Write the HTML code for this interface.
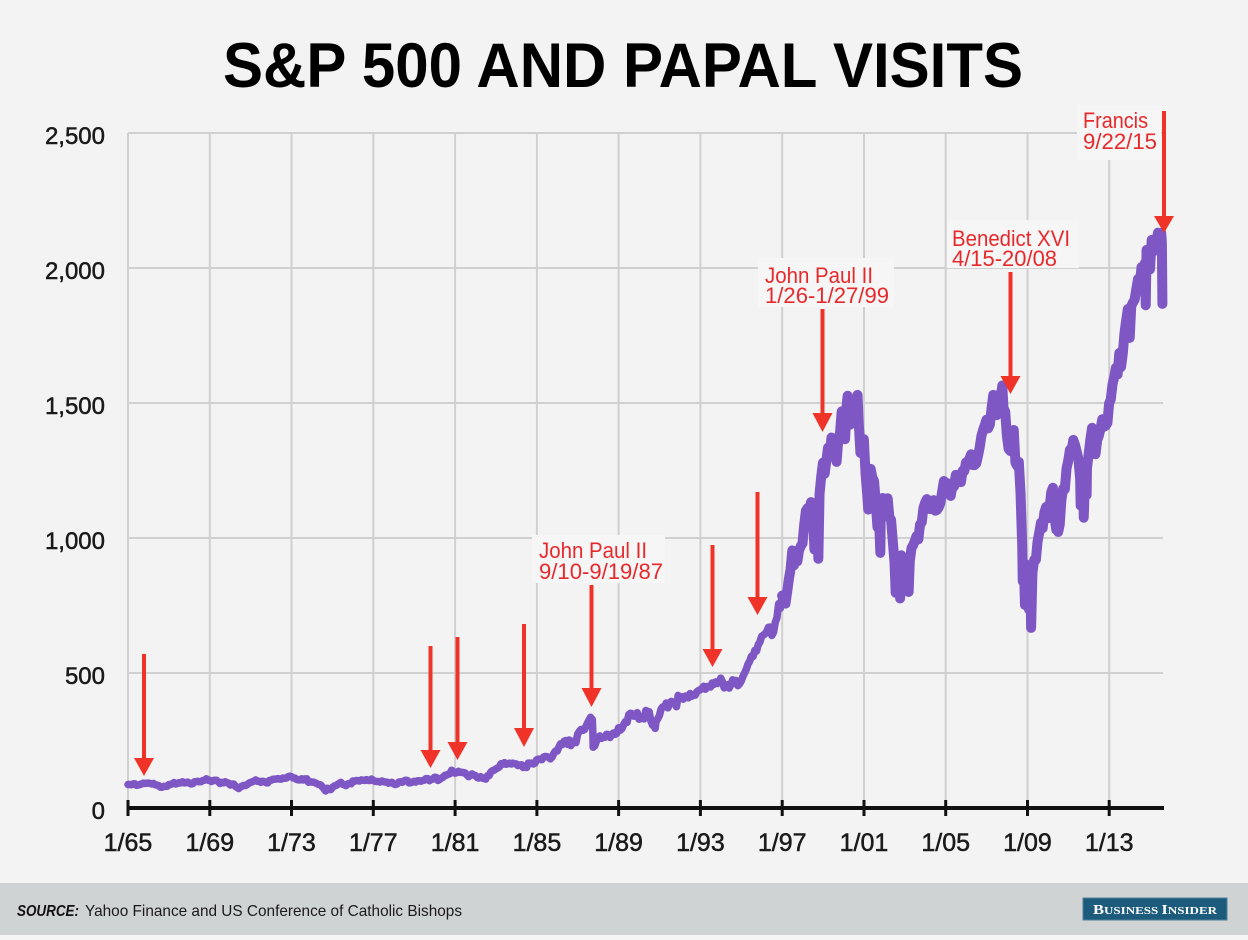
<!DOCTYPE html>
<html><head><meta charset="utf-8"><style>
html,body{margin:0;padding:0;background:#f3f3f3;}
svg{display:block;}
</style></head><body>
<svg width="1248" height="940" viewBox="0 0 1248 940" xmlns="http://www.w3.org/2000/svg" font-family="Liberation Sans, Arial, sans-serif">
<rect x="0" y="0" width="1248" height="940" fill="#f3f3f3"/>
<text x="223" y="87" font-size="63" font-weight="bold" fill="#000" textLength="800" lengthAdjust="spacingAndGlyphs">S&amp;P 500 AND PAPAL VISITS</text>

<!-- gridlines -->
<g stroke="#d0d0d0" stroke-width="2" fill="none">
<line x1="128" y1="133" x2="1163" y2="133"/>
<line x1="128" y1="268" x2="1163" y2="268"/>
<line x1="128" y1="403" x2="1163" y2="403"/>
<line x1="128" y1="538" x2="1163" y2="538"/>
<line x1="128" y1="673" x2="1163" y2="673"/>
<line x1="128" y1="133" x2="128" y2="808"/>
<line x1="209.8" y1="133" x2="209.8" y2="808"/>
<line x1="291.5" y1="133" x2="291.5" y2="808"/>
<line x1="373.3" y1="133" x2="373.3" y2="808"/>
<line x1="455.1" y1="133" x2="455.1" y2="808"/>
<line x1="536.9" y1="133" x2="536.9" y2="808"/>
<line x1="618.6" y1="133" x2="618.6" y2="808"/>
<line x1="700.4" y1="133" x2="700.4" y2="808"/>
<line x1="782.2" y1="133" x2="782.2" y2="808"/>
<line x1="864" y1="133" x2="864" y2="808"/>
<line x1="945.7" y1="133" x2="945.7" y2="808"/>
<line x1="1027.5" y1="133" x2="1027.5" y2="808"/>
<line x1="1109.2" y1="133" x2="1109.2" y2="808"/>
</g>

<!-- y labels -->
<g font-size="24" fill="#1a1a1a" stroke="#1a1a1a" stroke-width="0.5" text-anchor="end">
<text x="105" y="144">2,500</text>
<text x="105" y="279">2,000</text>
<text x="105" y="414">1,500</text>
<text x="105" y="549">1,000</text>
<text x="105" y="684">500</text>
<text x="105" y="819">0</text>
</g>

<!-- label boxes -->
<g fill="#f6f6f6">
<rect x="532" y="535" width="133" height="48"/>
<rect x="758" y="258" width="136" height="49"/>
<rect x="947" y="220" width="132" height="48"/>
<rect x="1077" y="105" width="84" height="55"/>
</g>

<!-- data line -->
<g transform="translate(128 808) scale(1.7033 -0.27)" fill="none" stroke="#7e57c4" stroke-linejoin="round" stroke-linecap="round">
<polyline stroke-width="7.5" vector-effect="non-scaling-stroke" points="
0,87 1,87 2,86 3,89 4,90 5,84 6,85 7,87 8,89 9,92 10,91 11,92
12,92 13,91 14,89 15,91 16,86 17,85 18,83 19,77 20,77 21,80 22,80 23,80
24,87 25,87 26,90 27,94 28,89 29,91 30,94 31,93 32,97 33,93 34,94 35,96
36,92 37,89 38,90 39,97 40,98 41,99 42,97 43,98 44,102 45,103 46,108 47,103
48,103 49,98 50,101 51,103 52,103 53,97 54,91 55,95 56,93 57,97 58,94 59,92
60,85 61,89 62,89 63,81 64,76 65,72 66,78 67,81 68,84 69,83 70,87 71,92
72,95 73,97 74,100 75,104 76,99 77,99 78,95 79,99 80,98 81,94 82,93 83,102
84,103 85,106 86,107 87,107 88,109 89,107 90,107 91,111 92,110 93,111 94,116 95,118
96,116 97,111 98,111 99,106 100,104 101,104 102,108 103,104 104,108 105,108 106,95 107,97
108,96 109,96 110,93 111,90 112,87 113,86 114,79 115,72 116,63 117,73 118,69 119,68
120,76 121,81 122,83 123,87 124,91 125,95 126,88 127,86 128,83 129,89 130,91 131,90
132,100 133,99 134,102 135,101 136,100 137,104 138,103 139,102 140,105 141,102 142,102 143,107
144,102 145,99 146,98 147,98 148,96 149,100 150,98 151,96 152,96 153,92 154,94 155,95
156,89 157,87 158,89 159,96 160,97 161,95 162,100 163,103 164,102 165,93 166,94 167,96
168,99 169,96 170,101 171,101 172,99 173,102 174,103 175,109 176,109 177,101 178,106 179,107
180,114 181,113 182,102 183,106 184,111 185,114 186,121 187,122 188,125 189,127 190,140 191,135
192,129 193,131 194,136 195,132 196,132 197,131 198,130 199,122 200,116 201,121 202,126 203,122
204,120 205,113 206,111 207,116 208,111 209,109 210,107 211,119 212,120 213,133 214,138 215,140
216,145 217,148 218,152 219,164 220,162 221,168 222,162 223,164 224,166 225,163 226,166 227,164
228,163 229,157 230,159 231,160 232,150 233,153 234,150 235,166 236,166 237,166 238,163 239,167
240,179 241,181 242,180 243,179 244,189 245,191 246,190 247,188 248,182 249,189 250,202 251,211
252,211 253,226 254,238 255,235 256,247 257,250 258,236 259,252 260,231 261,243 262,249 263,242
264,274 265,284 266,291 267,288 268,290 269,304 270,318 271,329 271.6,336 272,321 272.6,328 272.9,282 273.1,225 273.5,248 274,230 275,247
276,257 277,267 278,258 279,261 280,262 281,273 282,272 283,261 284,271 285,278 286,273 287,277
288,297 289,288 290,294 291,309 292,320 293,317 294,346 295,351 296,349 297,340 298,345 299,353
300,329 301,331 302,339 303,330 304,361 305,358 306,356 307,322 308,306 309,304 309.5,295 310,322 311,330
312,343 313,367 314,375 315,375 316,389 317,371 318,387 319,395 320,387 321,392 322,375 323,417
324,408 325,412 326,403 327,414 328,415 329,408 330,424 331,414 332,418 333,418 334,431 335,435
336,438 337,443 338,451 339,440 340,450 341,450 342,448 343,463 344,458 345,467 346,461 347,466
348,481 349,467 350,445 351,450 352,457 353,444 354,458 355,475 356,462 357,472 358,453 359,459
360,470 361,487 362,500 363,514 364,533 365,544 366,562 367,561 368,584 369,581 370,605 371,615
372,636 373,640 374,645 375,654 376,669 377,670 378,639 379,651 380,687 381,705 382,757 383,740
384,786 385,790 386,757 387,801 388,848 389,885 390,954 391,899 392,947 393,914 394,955 395,970
396,980 397,1049 398,1101 399,1111 400,1090 401,1133 402,1120 403,957 404,1017 405,1098 405.3,923 406,1163 407,1229
408,1279 409,1238 410,1286 411,1335 412,1301 413,1372 414,1328 415,1320 416,1282 417,1362 418,1388 419,1469
420,1394 421,1366 422,1498 422.5,1527 423,1452 424,1420 425,1454 426,1430 427,1517 428,1436 428.3,1530 429,1429 430,1315 431,1320
432,1366 433,1240 434,1160 434.6,1105 435,1249 436,1256 437,1224 438,1211 439,1133 440,1040 441,1060 441.7,945 442,1139 443,1148
444,1130 445,1106 446,1147 447,1076 448,1067 449,989 450,911 450.7,797 451,916 452,815 453,885 453.3,776 454,936 455,879
456,855 457,841 458,848 458.3,800 459,916 460,963 461,974 462,990 463,1008 464,995 465,1050 466,1058 467,1111
468,1131 469,1144 470,1126 471,1107 472,1120 473,1140 474,1101 475,1104 476,1114 477,1130 478,1173 479,1211
480,1181 481,1203 482,1180 483,1156 484,1191 485,1191 486,1234 487,1220 488,1228 489,1207 490,1249 491,1248
492,1280 493,1280 494,1294 495,1310 496,1270 497,1270 498,1276 499,1303 500,1335 501,1377 502,1400 503,1418
504,1438 505,1406 506,1420 507,1482 508,1530 509,1503 510,1455 511,1473 512,1526 513,1549 513.3,1565 514,1481 515,1468
516,1378 517,1330 518,1322 519,1385 520,1400 521,1280 522,1267 523,1282 524,1166 525,968 525.3,840 526,896 526.6,752 527,903
528,825 529,735 530,797 530.2,667 531,872 532,919 533,919 534,987 535,1020 536,1057 537,1036 538,1095 539,1115
540,1073 541,1104 542,1169 543,1186 544,1089 544.2,1066 545,1030 546,1101 546.1,1022 547,1049 548,1141 549,1183 550,1180 551,1257
552,1286 553,1327 554,1325 555,1363 556,1345 557,1320 558,1292 559,1218 559.3,1120 560,1131 561,1253 561.1,1075 562,1247 562.8,1159 563,1257
564,1312 565,1365 566,1408 567,1397 568,1310 569,1362 570,1379 571,1406 572,1440 573,1412 574,1416 575,1426
576,1498 577,1514 578,1569 579,1597 580,1631 581,1606 582,1685 583,1633 584,1681 585,1757 586,1806 587,1848
588,1783 588.1,1741 589,1859 590,1872 591,1883 592,1923 593,1960 594,1931 595,2003 596,1972 597,2018 597.5,1862 598,2067 599,2059
600,1995 601,2104 602,2068 603,2086 604,2107 604.7,2131 605,2063 606,2104 606.6,2130 607.0,2090 607.3,1867"/>
<polyline stroke-width="10" vector-effect="non-scaling-stroke" points="
384,786 385,790 386,757 387,801 388,848 389,885 390,954 391,899 392,947 393,914 394,955 395,970
396,980 397,1049 398,1101 399,1111 400,1090 401,1133 402,1120 403,957 404,1017 405,1098 405.3,923 406,1163 407,1229
408,1279 409,1238 410,1286 411,1335 412,1301 413,1372 414,1328 415,1320 416,1282 417,1362 418,1388 419,1469
420,1394 421,1366 422,1498 422.5,1527 423,1452 424,1420 425,1454 426,1430 427,1517 428,1436 428.3,1530 429,1429 430,1315 431,1320
432,1366 433,1240 434,1160 434.6,1105 435,1249 436,1256 437,1224 438,1211 439,1133 440,1040 441,1060 441.7,945 442,1139 443,1148
444,1130 445,1106 446,1147 447,1076 448,1067 449,989 450,911 450.7,797 451,916 452,815 453,885 453.3,776 454,936 455,879
456,855 457,841 458,848 458.3,800 459,916 460,963 461,974 462,990 463,1008 464,995 465,1050 466,1058 467,1111
468,1131 469,1144 470,1126 471,1107 472,1120 473,1140 474,1101 475,1104 476,1114 477,1130 478,1173 479,1211
480,1181 481,1203 482,1180 483,1156 484,1191 485,1191 486,1234 487,1220 488,1228 489,1207 490,1249 491,1248
492,1280 493,1280 494,1294 495,1310 496,1270 497,1270 498,1276 499,1303 500,1335 501,1377 502,1400 503,1418
504,1438 505,1406 506,1420 507,1482 508,1530 509,1503 510,1455 511,1473 512,1526 513,1549 513.3,1565 514,1481 515,1468
516,1378 517,1330 518,1322 519,1385 520,1400 521,1280 522,1267 523,1282 524,1166 525,968 525.3,840 526,896 526.6,752 527,903
528,825 529,735 530,797 530.2,667 531,872 532,919 533,919 534,987 535,1020 536,1057 537,1036 538,1095 539,1115
540,1073 541,1104 542,1169 543,1186 544,1089 544.2,1066 545,1030 546,1101 546.1,1022 547,1049 548,1141 549,1183 550,1180 551,1257
552,1286 553,1327 554,1325 555,1363 556,1345 557,1320 558,1292 559,1218 559.3,1120 560,1131 561,1253 561.1,1075 562,1247 562.8,1159 563,1257
564,1312 565,1365 566,1408 567,1397 568,1310 569,1362 570,1379 571,1406 572,1440 573,1412 574,1416 575,1426
576,1498 577,1514 578,1569 579,1597 580,1631 581,1606 582,1685 583,1633 584,1681 585,1757 586,1806 587,1848
588,1783 588.1,1741 589,1859 590,1872 591,1883 592,1923 593,1960 594,1931 595,2003 596,1972 597,2018 597.5,1862 598,2067 599,2059
600,1995 601,2104 602,2068 603,2086 604,2107 604.7,2131 605,2063 606,2104 606.6,2130 607.0,2090 607.3,1867"/>
</g>

<!-- x axis -->
<g fill="#111">
<rect x="127" y="806" width="1037" height="4"/>
<rect x="126.5" y="800" width="3" height="16"/>
<rect x="208.3" y="800" width="3" height="16"/>
<rect x="290" y="800" width="3" height="16"/>
<rect x="371.8" y="800" width="3" height="16"/>
<rect x="453.6" y="800" width="3" height="16"/>
<rect x="535.4" y="800" width="3" height="16"/>
<rect x="617.1" y="800" width="3" height="16"/>
<rect x="698.9" y="800" width="3" height="16"/>
<rect x="780.7" y="800" width="3" height="16"/>
<rect x="862.5" y="800" width="3" height="16"/>
<rect x="944.2" y="800" width="3" height="16"/>
<rect x="1026" y="800" width="3" height="16"/>
<rect x="1107.7" y="800" width="3" height="16"/>
</g>
<g font-size="25" fill="#1a1a1a" stroke="#1a1a1a" stroke-width="0.5" text-anchor="middle">
<text x="128" y="851">1/65</text>
<text x="209.8" y="851">1/69</text>
<text x="291.5" y="851">1/73</text>
<text x="373.3" y="851">1/77</text>
<text x="455.1" y="851">1/81</text>
<text x="536.9" y="851">1/85</text>
<text x="618.6" y="851">1/89</text>
<text x="700.4" y="851">1/93</text>
<text x="782.2" y="851">1/97</text>
<text x="864" y="851">1/01</text>
<text x="945.7" y="851">1/05</text>
<text x="1027.5" y="851">1/09</text>
<text x="1109.2" y="851">1/13</text>
</g>

<!-- arrows -->
<g fill="#ef3329">
<rect x="142" y="654" width="4" height="105"/><polygon points="134,758 154,758 144,776"/>
<rect x="428.5" y="646" width="4" height="105"/><polygon points="420.5,750 440.5,750 430.5,768"/>
<rect x="455.5" y="637" width="4" height="106"/><polygon points="447.5,742 467.5,742 457.5,760"/>
<rect x="522" y="624" width="4" height="105"/><polygon points="514,728 534,728 524,747"/>
<rect x="589.5" y="585" width="4" height="104"/><polygon points="581.5,688 601.5,688 591.5,707"/>
<rect x="710.5" y="545" width="4" height="105"/><polygon points="702.5,649 722.5,649 712.5,667"/>
<rect x="755.5" y="492" width="4" height="106"/><polygon points="747.5,597 767.5,597 757.5,615"/>
<rect x="820.5" y="309" width="4" height="105"/><polygon points="812.5,413 832.5,413 822.5,432"/>
<rect x="1008.5" y="272" width="4" height="105"/><polygon points="1000.5,376 1020.5,376 1010.5,394"/>
<rect x="1162" y="111" width="4" height="106"/><polygon points="1154,216 1174,216 1164,233"/>
</g>

<!-- annotation text -->
<g font-size="22" fill="#e8292b">
<text x="539" y="558" textLength="108" lengthAdjust="spacingAndGlyphs">John Paul II</text>
<text x="539" y="579" textLength="124" lengthAdjust="spacingAndGlyphs">9/10-9/19/87</text>
<text x="765" y="283" textLength="108" lengthAdjust="spacingAndGlyphs">John Paul II</text>
<text x="765" y="303" textLength="124" lengthAdjust="spacingAndGlyphs">1/26-1/27/99</text>
<text x="952" y="246" textLength="118" lengthAdjust="spacingAndGlyphs">Benedict XVI</text>
<text x="952" y="266" textLength="105" lengthAdjust="spacingAndGlyphs">4/15-20/08</text>
<text x="1083" y="128" textLength="65" lengthAdjust="spacingAndGlyphs">Francis</text>
<text x="1083" y="149" textLength="74" lengthAdjust="spacingAndGlyphs">9/22/15</text>
</g>

<!-- footer -->
<rect x="0" y="883" width="1248" height="52" fill="#d0d3d4"/>
<rect x="0" y="935" width="1248" height="5" fill="#f5f5f5"/>
<text x="17" y="916" font-size="16" font-weight="bold" font-style="italic" fill="#111" textLength="62" lengthAdjust="spacingAndGlyphs">SOURCE:</text>
<text x="85" y="916" font-size="16" fill="#1a1a1a" textLength="377" lengthAdjust="spacingAndGlyphs">Yahoo Finance and US Conference of Catholic Bishops</text>
<rect x="1083" y="898" width="144" height="22" fill="#1c5b7c" stroke="#4f7f99" stroke-width="1"/>
<text x="1093" y="914" fill="#fff" style="font-family:'Liberation Serif',serif" font-weight="bold" textLength="124" lengthAdjust="spacingAndGlyphs"><tspan font-size="14">B</tspan><tspan font-size="11">USINESS </tspan><tspan font-size="14">I</tspan><tspan font-size="11">NSIDER</tspan></text>
</svg>
</body></html>
